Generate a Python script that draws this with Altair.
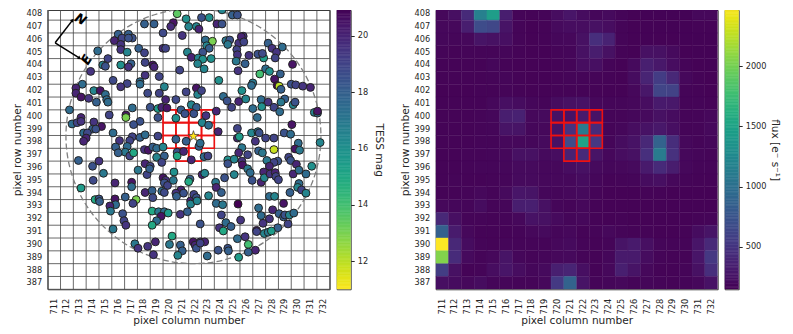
import altair as alt
import pandas as pd
import numpy as np

cols = list(range(711, 733))
rows = list(range(387, 409))
col_edges = [c - 0.5 for c in cols] + [732.5]
row_edges = [r - 0.5 for r in rows]

# (column, row, TESS mag)
stars_upper_left = [
 (720.6,408.0,13.5),(721.3,407.6,16),(718.05,407.2,18),(718.8,407.2,18),(720.3,407.3,20.5),(720.1,407.0,19.8),
 (721.5,407.0,16.5),(722.1,407.0,16.5),(719.5,406.5,18.8),(721.0,406.3,19.5),(716,406.4,18),(716.8,406.4,18),
 (716.3,406.1,19),(715.7,405.9,20),(717.1,406.1,18.5),(716.8,406.1,18.5),(716.2,405.6,19.5),(716.2,405.2,19.5),
 (716.7,405.0,16.5),(714.4,405.1,17.5),(717.6,405.3,18),(718.05,404.95,19),(719.5,405.3,19.8),(719.7,405.3,19),
 (721.4,405.0,16.5),(721.7,404.6,20),(715.2,404.5,19),(714.8,404.0,16.5),(715,403.9,18.5),(716.2,404,16),
 (717,404.1,18),(716.8,403.85,19.5),(718.1,404.2,19),(718.7,404,20.5),(718.8,403.85,20),(713.85,403.5,19.5),
 (720.8,403.6,19),(718.1,403.2,19.5),(719.2,403.1,19),(715.6,402.8,18.8),(717.7,402.7,17.5),(716.7,402.55,19),
 (716.2,402.3,19.5),(717.7,402.5,17.5),(713.2,402.5,17.5),(712.7,402.2,20),(712.7,401.8,20),(714.1,402,16.5),
 (714.6,402,20.5),(715,401.7,17.5),(719.6,402.3,16.5),(718.3,401.8,18.8),(719.2,401.8,19),(721.3,401.9,19),
 (722.1,402.2,20.5),(722.2,401.7,16.5),(713.1,401.5,20.5),(713.7,401.4,19.5),(714.3,401.1,18),(715.1,401.3,17.5),
 (715.2,401.1,17.5),(719.7,401.3,20),(720.5,401.3,18.8),(712.2,400.5,17.5),(717.1,400.65,17.5),(718.5,400.7,18.5),
 (719.1,400.6,15.5),(719.4,400.7,20),(719.8,400.65,20.5),(721.7,400.9,16.5),(722.1,400.7,18),(720.9,400.5,18),
 (715.3,400.1,19),(716.6,400.1,20.5),(716.6,399.9,13),(719.1,399.9,18.5),(720.5,399.85,16),(721.2,400.2,18.5),
 (721.9,400.2,18.5),(713.1,399.9,20),(712.4,399.4,17.5),(712.8,399.5,19),(713.1,399.6,19.5),(714.1,399.55,19.5),
 (717.7,399.6,18.5),(717.2,399.35,18.5),(714.7,399.2,20.5),(714,399,18),(714.25,399,18.5),(713.3,398.7,17.5),
 (713.6,398.7,18.8),(715.6,398.7,17.5),(713.5,398.3,20),(713.3,398.05,20),(716.1,398.1,19.5),(717.1,398.4,19),
 (716.9,398.1,19),(717.7,398.35,18),(718.1,398.55,17.5),(719.1,398.45,19),(720.5,398.2,18),(721.3,398.05,18),
 (715.8,397.6,18),(716.7,397.65,17.5),(716.55,397.2,17),(716,397.15,18),(716.9,396.9,19),(717.2,397.15,15),
 (718.05,397.4,19.5),(718.35,397.35,20.5),(718.7,397.6,18),(719,397.5,17.5),(719.5,397.6,16.5),(720.6,397.2,18.5),
 (720.6,396.9,15),(721.1,397.25,20),(721.7,396.6,20),(722.3,397.65,18),(719,396.8,16.5),(719.6,396.9,18),
 (712.9,396.55,18),(714.5,396.5,19.5),(714,396.1,18.5),(718.1,396.3,20),(719.4,396.4,19),(718.5,396.1,19),
]
stars_upper_right = [
 (724.1,408.3,16.5),(723.1,407.7,16),(722.5,407.7,18.5),(724.9,407.9,18),(725.3,407.9,18.5),(723.7,407.2,20),
 (724.1,407.2,18.5),(722.3,406.8,20),(722.8,405.95,17.5),(723.35,405.85,13),(724.4,405.9,17),(724.7,405.95,18.5),
 (725.4,405.7,19.5),(725.75,406.25,19.5),(725.6,406.2,20),(725.8,405.8,19),(727.7,405.7,18),(724.55,405.6,17),
 (722.9,405.5,16.5),(723.1,405.3,18),(722.6,405,18.5),(725.25,405.2,19),(725.3,404.8,19.5),(728,405.3,19.5),
 (728.8,405.4,17.5),(728.35,405,19.5),(726.2,404.75,19.5),(726.9,404.85,18.5),(727.35,404.55,15.5),(727.25,404.9,18.8),
 (728.25,404.55,19),(722.25,404.55,16.5),(722.6,404.45,16),(723.25,404.5,16),(722.2,404.1,16.5),(722.7,403.7,16.5),
 (725.2,404.3,17),(725.9,404.1,18),(729.6,404.05,20.5),(725.35,403.55,19.5),(727.5,403.7,17.5),(727.8,403.5,16),
 (727.05,403.3,14),(728.65,403.3,18),(728.2,402.9,20.5),(723.85,402.8,16),(726.5,402.6,17),(726.4,402.4,17.5),
 (728.4,402.4,21),(728.55,402.35,12),(728.7,402.1,18),(729.5,402.5,18.5),(729.85,402.45,19),(730.4,402.35,19.5),
 (731,402.25,20),(722.5,402,19),(725.65,402,16),(724.2,401.55,17.5),(724.5,401.2,18.5),(725.4,401.15,20),
 (725.95,401.35,16.5),(727.15,401.3,17.5),(727.7,401.1,19.5),(729,401.35,18),(728.7,401.1,17),(729.65,400.9,16.5),
 (729.8,401.1,18.5),(724.85,400.7,19),(726.5,400.6,17.5),(727.2,400.75,16),(728.15,400.7,19),(728.6,400.35,17.5),
 (723.65,400.4,20),(722.85,400.05,19.5),(726.85,399.9,17.5),(731.3,400.3,16.5),(731.55,400.25,17.5),(731.55,400.4,20.5),
 (722.55,399.5,16.5),(723.05,399.3,17.5),(729.55,399.35,20.5),(725.3,399.05,19),(723.8,398.8,20),(726.4,398.7,16.5),
 (726.9,398.8,17),(727,398.7,18.5),(728.95,398.7,18.5),(729.45,398.6,17.5),(725.3,398.3,20),(725.45,398.4,15.5),
 (726.7,398.05,19.5),(727.5,398.3,19),(728.15,398.3,19),(731.75,397.95,16.5),(722.4,397.9,17.5),(730.05,397.9,17.5),
 (729.8,397.45,20.5),(730.15,397.35,17),(725.65,397.55,17),(728.15,397.4,11.8),(725.4,397.15,20),(726.95,397.3,18),
 (727.25,397.15,17),(726.1,397,19),(722.7,396.85,17.5),(723,396.9,19),(724.55,396.6,16),(725.05,396.65,16.5),
 (724.55,396.3,18.5),(725.65,396.5,19.5),(725.7,396.2,20.5),(727.6,396.55,17),(728.45,396.5,18.5),(728.15,396.4,19),
 (727.8,396.1,20),(729.3,396.8,19),(729.45,396.55,18.5),(729.9,396.25,20),(731.1,396.1,16),
]
stars_lower_left = [
 (714.85,395.55,17),(714.05,395,18.8),(715.75,394.8,20),(713.1,394.4,15.5),(717.55,395.8,17),(718.25,395.45,19),
 (718.45,395.9,18),(720.35,395.65,16),(719.5,395.2,20.5),(719.7,395,19.5),(719.6,394.8,18.5),(719.85,394.6,19),
 (720.3,395,17),(721.6,395.1,18),(721.5,394.9,15),(717.05,394.85,20.5),(717.05,394.5,17.5),(718.1,394.05,20),
 (718.65,394.2,18),(718.7,393.65,18.8),(719.4,394.15,17.5),(719.6,394.05,18.8),(716.55,393.7,18),(717.4,393.5,13),
 (717.15,393.2,19),(715.75,393.55,20.5),(715.8,393.1,17.5),(714.2,393.5,15),(714.5,393.55,18.5),(714.55,393.35,18),
 (715.35,393,20),(715.4,392.6,17),(716.35,392.4,18.5),(716.45,391.85,19),(716.6,391.5,19.5),(715.6,391.2,17),
 (720.9,394.25,20),(720.5,394,19.5),(721.1,394,18.5),(720.55,393.75,18),(721.65,393.4,20),(721.9,393.9,19),
 (722.1,393.65,18.5),(721.65,393.15,16.5),(722.15,393.4,16.5),(718.65,392.6,15),(719.15,392.55,17),(719.6,392.55,17.5),
 (719.9,392.45,15.5),(719.35,392.2,20.5),(720.85,392.35,19.5),(721.4,392.55,18),(719,391.85,17.5),(718.65,391.5,15),
 (722.4,391.6,18.5),(720.2,390.65,15),(717.3,390.05,17),(717.55,389.7,19.5),(718.3,389.85,19.5),(718.9,390.2,20),
 (718.75,389.2,19.5),(720,390,17),(720.85,389.95,18),(721,389.5,18),(720.65,389.15,16.5),(721.85,390.2,20.5),
 (722,389.95,20),(722.1,389.7,18.5),(722.4,390.2,19.5),
]
stars_lower_right = [
 (722.55,395.45,20),(722.75,395.55,16.5),(725.05,395.45,16.5),(724.3,395.2,18.5),(723.6,394.85,17),(723.65,394.45,20),
 (724.05,394.05,18),(723.05,393.8,16.5),(723.65,393.2,17.5),(724.15,393.1,17),(725.35,393.15,21),(724.05,392.3,19),
 (724.4,391.7,17.5),(725.55,391.9,19.5),(723.9,391.3,19.5),(724.2,391.05,15),(724.8,391.4,18),(725.3,390.45,17.5),
 (725.9,390.6,19.5),(726.15,390,14),(726.7,389.55,20),(726.15,389.4,18),(725.4,389,15.5),(724.55,389.7,18.5),
 (724.6,389.5,18),(723.8,389.55,18.5),(722.95,389.1,17.5),(722.75,390.2,20),(722.4,390.1,19),(726.1,395.9,17),
 (726.3,395.6,17.5),(726.45,395,18.5),(727.15,394.85,20),(727.35,395.65,20),(727.4,395.2,16.5),(727.85,395.5,19.5),
 (728.25,395.6,20),(728.3,395.3,19),(728.5,395.05,19),(729.65,395.5,20),(730.1,395.8,17.5),(730.65,395.5,17.5),
 (730.1,394.75,17.5),(730,394.45,16.5),(730.3,394.25,19),(730.65,394,16.5),(729.4,394.05,18),(727.8,393.75,17.5),
 (728.2,393.75,16.5),(728.9,393.2,20.5),(726.95,392.85,17.5),(728.05,392.7,20),(727.15,392.25,17.5),(727.8,392,19.5),
 (727.3,391.65,19.5),(728.55,392.4,18),(728.9,392.15,18),(729,392.3,18.5),(729.35,392.3,16.5),(729.7,392.45,17.5),
 (729.25,391.6,19),(728.45,391.3,18),(726.8,391.1,20.5),(726.8,391,19),(727.4,390.85,16.5),(727.7,390.95,17),(727.95,391.05,15.5),
]

target_col, target_row = 721.87, 398.45
aperture_cols = [720,721,722,723, 720,721,722,723, 720,721,722,723, 721,722]
aperture_rows = [400,400,400,400, 399,399,399,399, 398,398,398,398, 397,397]

flux_by_row = {
408:[190,230,420,1150,1450,330,170,165,170,220,270,210,180,200,170,160,155,155,155,155,190,190],
407:[190,190,330,680,640,260,170,160,165,200,220,220,240,220,170,160,155,155,155,155,165,165],
406:[180,175,185,260,240,230,170,160,165,180,185,240,450,360,170,160,155,160,160,155,155,155],
405:[170,165,170,170,170,175,165,160,160,170,175,240,320,240,165,160,240,240,200,160,155,155],
404:[165,165,165,165,180,165,160,160,160,165,170,220,230,170,160,200,340,290,220,170,160,155],
403:[165,165,165,165,170,175,165,160,160,165,170,170,170,165,160,210,370,550,400,190,165,160],
402:[160,160,160,165,165,170,165,160,160,165,165,165,165,160,160,190,280,620,600,170,165,160],
401:[165,165,165,165,185,230,210,180,170,210,240,250,190,175,175,190,220,300,290,170,170,165],
400:[165,165,165,170,180,330,350,190,200,240,250,300,250,170,170,180,200,240,210,170,170,190],
399:[165,165,165,170,175,260,260,180,190,250,480,1100,430,170,180,220,250,290,230,170,170,195],
398:[165,165,165,170,170,185,185,180,200,240,680,1500,520,175,210,250,400,880,440,185,170,180],
397:[165,165,170,170,175,190,240,240,200,220,360,420,260,190,220,240,460,1120,470,190,175,170],
396:[165,165,170,175,175,180,200,200,190,190,220,240,200,180,185,200,300,420,320,185,170,170],
395:[165,170,165,165,170,175,200,200,190,185,190,210,180,165,170,175,210,230,190,170,165,165],
394:[165,165,170,185,170,200,270,260,180,175,190,200,170,160,160,160,165,165,160,160,160,160],
393:[190,180,175,210,170,175,330,340,240,175,170,190,165,160,160,160,160,160,160,160,160,160],
392:[400,230,170,170,165,170,190,250,240,200,175,190,165,160,165,160,160,160,160,160,165,170],
391:[850,310,190,165,165,165,170,190,200,175,190,165,170,190,170,165,165,160,160,165,210,260],
390:[2490,400,210,170,165,175,170,170,170,190,200,170,165,170,260,300,230,175,170,170,270,410],
389:[2050,430,200,170,190,260,180,170,175,190,195,170,165,180,300,300,210,170,165,165,270,520],
388:[560,240,165,170,220,270,220,180,200,340,370,230,165,185,340,260,185,165,165,170,240,450],
387:[230,210,190,210,175,175,170,170,190,530,880,260,170,175,185,170,175,170,165,170,190,250],
}

mag_domain = [11, 21]
flux_domain = [145, 2490]
mag_ticks = [12, 14, 16, 18, 20]
flux_ticks = [500, 1000, 1500, 2000]

FONT = "DejaVu Sans"
TXT = "#262626"
PW, PH = 282, 279.3
Y_TOP = 408.29
STAR = "M0,-1L0.22,-0.31L0.95,-0.31L0.36,0.12L0.59,0.81L0,0.38L-0.59,0.81L-0.36,0.12L-0.95,-0.31L-0.22,-0.31Z"

x_scale = alt.Scale(domain=[710.5, 732.5], nice=False, zero=False)
y_scale = alt.Scale(domain=[386.5, Y_TOP], nice=False, zero=False)
mag_color = alt.Scale(scheme="viridis", domain=mag_domain, reverse=True)
flux_color = alt.Scale(scheme="viridis", domain=flux_domain)

x_axis = alt.Axis(values=cols, labelAngle=-90, format="d", title="pixel column number", grid=False,
                  ticks=False, domain=False, labelPadding=9, labelOverlap=False, labelFontSize=8.2, titleFontSize=10.6,
                  titleFontWeight="normal", titlePadding=2, labelColor=TXT, titleColor=TXT, labelFont=FONT, titleFont=FONT)
y_axis = alt.Axis(values=rows, format="d", title="pixel row number", grid=False, ticks=False, domain=False,
                  labelPadding=6, labelOverlap=False, labelFontSize=8.2, titleFontSize=10.6,
                  titleFontWeight="normal", titlePadding=4, labelColor=TXT, titleColor=TXT,
                  labelFont=FONT, titleFont=FONT)

X = alt.X("x:Q", scale=x_scale, axis=x_axis)
Y = alt.Y("y:Q", scale=y_scale, axis=y_axis)

stars = pd.DataFrame(stars_upper_left + stars_upper_right + stars_lower_left + stars_lower_right,
                     columns=["x", "y", "mag"])
vgrid = pd.DataFrame({"x": col_edges})
hgrid = pd.DataFrame({"y": row_edges})
aper = pd.DataFrame({"x": [c - 0.5 for c in aperture_cols], "x2": [c + 0.5 for c in aperture_cols],
                     "y": [r - 0.5 for r in aperture_rows], "y2": [r + 0.5 for r in aperture_rows]})

grid_v = alt.Chart(vgrid).mark_rule(color="#444444", strokeWidth=0.8).encode(x=X)
grid_h = alt.Chart(hgrid).mark_rule(color="#444444", strokeWidth=0.8).encode(y=Y)


def aperture_layer():
    return alt.Chart(aper).mark_rect(fill="transparent", stroke="#ee1111", strokeWidth=1.6).encode(
        x=X, x2="x2:Q", y=Y, y2="y2:Q")


fov = alt.Chart(pd.DataFrame({"x": [target_col], "y": [target_row]})).mark_point(
    shape="circle", size=65025, filled=False, stroke="#808080", strokeWidth=1.3, strokeDash=[6, 3], opacity=1,
    clip=True
).encode(x=X, y=Y)

points = alt.Chart(stars).mark_point(shape="circle", filled=True, size=62, stroke="#222222", strokeWidth=1,
                                     opacity=1, clip=True).encode(
    x=X, y=Y, fill=alt.Fill("mag:Q", scale=mag_color, legend=None))

target = alt.Chart(pd.DataFrame({"x": [target_col], "y": [target_row]})).mark_point(
    shape=STAR, filled=True, size=120, fill="#ffe81a", stroke="#333333", strokeWidth=0.7, opacity=1
).encode(x=X, y=Y)

# compass
origin = (711.08, 405.73)
n_tip = (712.44, 407.5)
e_tip = (712.99, 404.53)
compass = pd.DataFrame({"x": [origin[0], origin[0]], "y": [origin[1], origin[1]],
                        "x2": [n_tip[0], e_tip[0]], "y2": [n_tip[1], e_tip[1]]})
compass_lines = alt.Chart(compass).mark_rule(color="black", strokeWidth=1.5).encode(
    x=X, y=Y, x2="x2:Q", y2="y2:Q")
tips = pd.DataFrame({"x": [n_tip[0], e_tip[0]], "y": [n_tip[1], e_tip[1]], "a": [37.5, 122.6]})
compass_tips = alt.Chart(tips).mark_point(shape="triangle-up", filled=True, size=16, color="black", opacity=1).encode(
    x=X, y=Y, angle=alt.Angle("a:Q", scale=None))
n_text = alt.Chart(pd.DataFrame({"x": [713.05], "y": [407.55], "t": ["N"]})).mark_text(
    font=FONT, fontWeight="bold", fontStyle="italic", fontSize=13, angle=30, color="black").encode(x=X, y=Y, text="t:N")
e_text = alt.Chart(pd.DataFrame({"x": [713.55], "y": [404.4], "t": ["E"]})).mark_text(
    font=FONT, fontWeight="bold", fontStyle="italic", fontSize=13, angle=300, color="black").encode(x=X, y=Y, text="t:N")

left = alt.layer(grid_v, grid_h, fov, aperture_layer(), points, target, compass_lines, compass_tips, n_text, e_text).properties(
    width=PW, height=PH)

# heat map
heat = pd.DataFrame([{"x": c - 0.5, "x2": c + 0.5, "y": r - 0.5, "y2": min(r + 0.5, Y_TOP), "flux": v}
                     for r, values in flux_by_row.items() for c, v in zip(cols, values)])
heat_layer = alt.Chart(heat).mark_rect(strokeWidth=0.4, clip=True).encode(
    x=X, x2="x2:Q", y=Y, y2="y2:Q",
    color=alt.Color("flux:Q", scale=flux_color, legend=None),
    stroke=alt.Stroke("flux:Q", scale=flux_color, legend=None))
right = alt.layer(heat_layer, aperture_layer()).properties(width=PW, height=PH)


def colorbar(domain, scale, ticks, title, step, top, title_pad):
    lo = np.arange(domain[0], top, step)
    d = pd.DataFrame({"lo": lo, "hi": np.minimum(lo + step * 1.02, top), "v": lo + step / 2})
    return alt.Chart(d).mark_rect(strokeWidth=0.6, clip=True).encode(
        x=alt.value(0), x2=alt.value(14),
        y=alt.Y("lo:Q", scale=alt.Scale(domain=[domain[0], top], nice=False, zero=False),
                axis=alt.Axis(orient="right", values=ticks, title=title, titleAngle=90, grid=False, domain=False,
                              tickSize=3.5, tickColor=TXT, labelFontSize=8.2, titleFontSize=10.6, labelPadding=3,
                              titleFontWeight="normal", titlePadding=title_pad, labelColor=TXT, titleColor=TXT,
                              labelFont=FONT, titleFont=FONT, format="d")),
        y2="hi:Q",
        color=alt.Color("v:Q", scale=scale, legend=None),
        stroke=alt.Stroke("v:Q", scale=scale, legend=None),
    ).properties(width=14, height=PH)


cb_mag = colorbar(mag_domain, mag_color, mag_ticks, "TESS mag", 0.05, 20.92, 6)
cb_flux = colorbar(flux_domain, flux_color, flux_ticks, "flux [e\u207b s\u207b\u00b9]", 12, 2468, 3.5)

indep = dict(color="independent", fill="independent", stroke="independent")
group_a = alt.hconcat(left, cb_mag, spacing=5).resolve_scale(**indep)
group_b = alt.hconcat(right, cb_flux, spacing=5).resolve_scale(**indep)

chart = alt.hconcat(group_a, group_b, spacing=14).resolve_scale(**indep).properties(
    padding={"left": 2.7, "top": 0, "right": 3, "bottom": 0},
).configure_view(stroke="#3a3a3a", strokeWidth=1)

chart.save("out.html", embed_options={"renderer": "svg", "actions": False})
